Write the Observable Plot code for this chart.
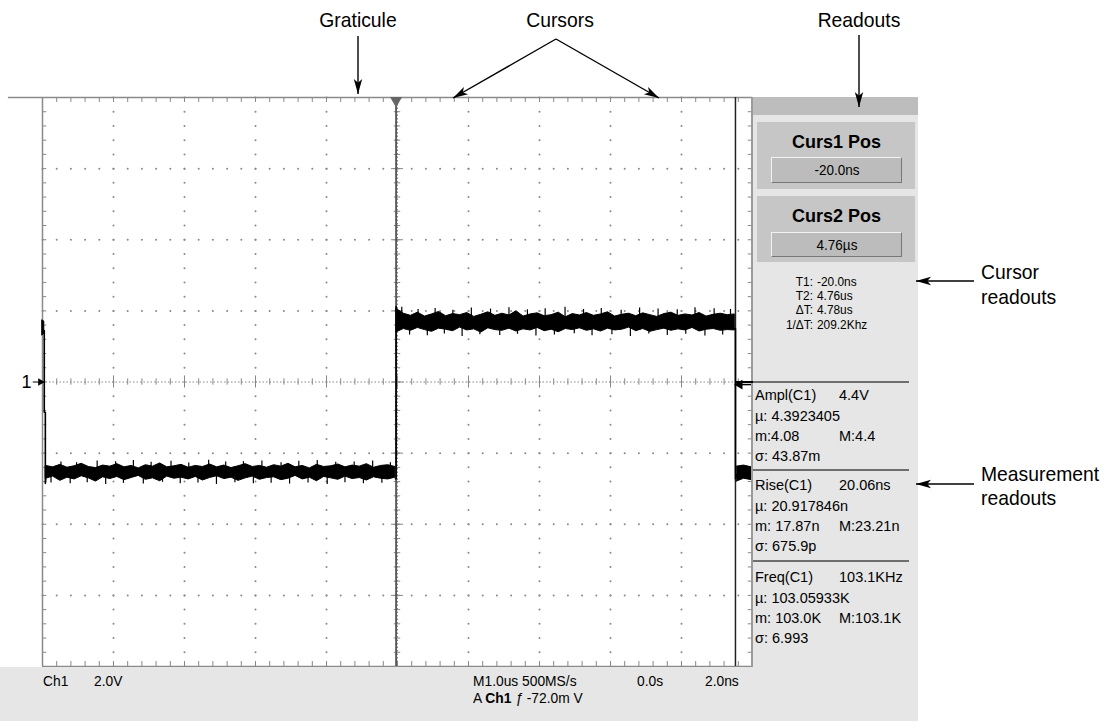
<!DOCTYPE html>
<html><head><meta charset="utf-8">
<script src="https://cdn.jsdelivr.net/npm/d3@7"></script>
<script src="https://cdn.jsdelivr.net/npm/@observablehq/plot@0.6"></script>
<style>
body{margin:0;background:#fff;}
#wrap{position:relative;width:1111px;height:721px;overflow:hidden;font-family:"Liberation Sans",Arial,sans-serif;color:#000;}
#wrap > svg{position:absolute;left:0;top:0;}
.abs{position:absolute;white-space:pre;}
</style></head><body><div id="wrap"></div>
<script>
// ---------------- data ----------------
const timeDomain = [-5, 5];      // µs  (1.0 µs / div, 10 div)
const voltDomain = [-8, 8];      // V   (2.0 V / div, 8 div)
const majorTicksX = [-4, -3, -2, -1, 1, 2, 3, 4];
const majorTicksY = [-6, -4, -2, 2, 4, 6];
const minorTicksX = [-5,-4.8,-4.6,-4.4,-4.2,-4,-3.8,-3.6,-3.4,-3.2,-3,-2.8,-2.6,-2.4,-2.2,-2,-1.8,-1.6,-1.4,-1.2,-1,-0.8,-0.6,-0.4,-0.2,0,0.2,0.4,0.6,0.8,1,1.2,1.4,1.6,1.8,2,2.2,2.4,2.6,2.8,3,3.2,3.4,3.6,3.8,4,4.2,4.4,4.6,4.8,5];
const minorTicksY = [-8,-7.6,-7.2,-6.8,-6.4,-6,-5.6,-5.2,-4.8,-4.4,-4,-3.6,-3.2,-2.8,-2.4,-2,-1.6,-1.2,-0.8,-0.4,0,0.4,0.8,1.2,1.6,2,2.4,2.8,3.2,3.6,4,4.4,4.8,5.2,5.6,6,6.4,6.8,7.2,7.6,8];
const cursor1 = -0.02;           // µs
const cursor2 = 4.76;            // µs
const triggerLevel = -0.072;     // V

// waveform envelope (V)
const leadTimes = [-5, -4.975];
const leadTop = [1.73, 1.70];
const leadBot = [1.31, 1.35];
const lowSpan = [-4.95, -0.03];
const lowTop = [-2.36,-2.40,-2.33,-2.41,-2.37,-2.30,-2.39,-2.42,-2.35,-2.38,
  -2.31,-2.40,-2.36,-2.43,-2.34,-2.38,-2.29,-2.40,-2.37,-2.33,
  -2.41,-2.36,-2.39,-2.32,-2.40,-2.35,-2.42,-2.37,-2.31,-2.39,
  -2.36,-2.41,-2.34,-2.38,-2.30,-2.40,-2.36,-2.43,-2.33,-2.39,
  -2.37,-2.32,-2.40,-2.35,-2.38,-2.31,-2.41,-2.36,-2.34,-2.39];
const lowBot = [-2.72,-2.66,-2.78,-2.69,-2.74,-2.65,-2.71,-2.80,-2.68,-2.73,
  -2.67,-2.76,-2.70,-2.64,-2.75,-2.71,-2.79,-2.66,-2.72,-2.69,
  -2.74,-2.67,-2.77,-2.70,-2.65,-2.73,-2.69,-2.78,-2.71,-2.66,
  -2.75,-2.70,-2.68,-2.76,-2.72,-2.64,-2.74,-2.69,-2.79,-2.67,
  -2.71,-2.75,-2.66,-2.73,-2.70,-2.77,-2.68,-2.72,-2.74,-2.69];
const lowSpikeT = [-4.88,-4.74,-4.61,-4.52,-4.37,-4.23,-4.11,-3.97,-3.86,-3.72,-3.58,-3.47,-3.31,-3.19,-3.06,-2.94,-2.81,-2.66,-2.55,-2.42,-2.29,-2.17,-2.03,-1.91,-1.78,-1.64,-1.52,-1.39,-1.26,-1.13,-0.99,-0.87,-0.74,-0.61,-0.48,-0.35,-0.22,-0.1];
const lowSpikeV = [-2.84,-2.25,-2.86,-2.27,-2.83,-2.22,-2.88,-2.24,-2.85,-2.21,-2.87,-2.26,-2.82,-2.23,-2.86,-2.28,-2.84,-2.20,-2.88,-2.25,-2.83,-2.24,-2.86,-2.22,-2.85,-2.27,-2.87,-2.23,-2.84,-2.21,-2.88,-2.26,-2.83,-2.25,-2.86,-2.22,-2.85,-2.27];
const highSpan = [-0.01, 4.75];
const highTop = [2.05,1.92,1.86,1.95,1.84,1.90,1.97,1.85,1.91,1.88,
  1.94,1.83,1.89,1.96,1.86,1.92,1.87,1.99,1.84,1.90,
  1.93,1.85,1.88,1.95,1.82,1.91,1.87,1.94,1.86,1.90,
  1.96,1.84,1.89,1.92,1.85,1.93,1.88,1.83,1.91,1.95,
  1.86,1.90,1.87,1.94,1.84,1.89,1.92,1.88,1.90];
const highBot = [1.40,1.49,1.44,1.52,1.46,1.41,1.50,1.47,1.43,1.53,
  1.45,1.48,1.39,1.51,1.46,1.44,1.50,1.42,1.48,1.45,
  1.52,1.43,1.47,1.40,1.49,1.46,1.51,1.44,1.48,1.42,
  1.50,1.45,1.47,1.53,1.43,1.49,1.41,1.46,1.50,1.44,
  1.48,1.45,1.52,1.42,1.47,1.49,1.44,1.46,1.45];
const highSpikeT = [0.06,0.17,0.29,0.42,0.53,0.66,0.78,0.91,1.04,1.16,1.31,1.44,1.57,1.69,1.83,1.95,2.08,2.21,2.36,2.49,2.62,2.74,2.87,3.02,3.15,3.28,3.41,3.54,3.67,3.8,3.94,4.06,4.19,4.33,4.46,4.58,4.69];
const highSpikeV = [2.10,1.32,2.04,1.30,2.07,1.35,2.02,1.28,2.08,1.33,2.05,1.31,2.09,1.34,2.03,1.29,2.06,1.32,2.10,1.36,2.04,1.30,2.07,1.33,2.02,1.28,2.08,1.35,2.05,1.31,2.03,1.34,2.09,1.29,2.06,1.32,2.04];
const tailTimes = [4.78, 4.88, 4.99];
const tailTop = [-2.38, -2.35, -2.40];
const tailBot = [-2.80, -2.72, -2.76];
// transitions
const edgeTimes = [[-4.975,-4.975,-4.96,-4.96,-4.945], [-0.03,-0.02,-0.02,0.0], [4.74,4.76,4.76,4.78]];
const edgeVolts = [[1.45,-0.85,-0.85,-2.85,-2.55], [-2.72,-2.72,2.12,1.92], [1.5,1.5,-2.72,-2.6]];
const levels = {low: -2.55, high: 1.67};

// annotations & readouts
const calloutLabels = ["Graticule", "Cursors", "Readouts"];
const sideLabels = [["Cursor", "readouts"], ["Measurement", "readouts"]];
const cursorBoxTitles = ["Curs1 Pos", "Curs2 Pos"];
const cursorBoxValues = ["-20.0ns", "4.76µs"];
const cursorReadLabels = ["T1:", "T2:", "ΔT:", "1/ΔT:"];
const cursorReadValues = ["-20.0ns", "4.76us", "4.78us", "209.2Khz"];
const measNames = ["Ampl(C1)", "Rise(C1)", "Freq(C1)"];
const measValues = ["4.4V", "20.06ns", "103.1KHz"];
const measMean = ["4.3923405", "20.917846n", "103.05933K"];
const measMin = ["4.08", " 17.87n", " 103.0K"];
const measMax = ["4.4", "23.21n", "103.1K"];
const measSigma = ["43.87m", "675.9p", "6.993"];
const statusLeft = ["Ch1", "2.0V"];
const statusRight = ["M1.0us 500MS/s", "0.0s", "2.0ns"];
const triggerLine = ["A", "Ch1", "ƒ", "-72.0m V"];
const channelMarker = "1";

// ---------------- build ----------------
const band = [];
leadTimes.forEach((t, i) => band.push({seg: "lead", t, lo: leadBot[i], hi: leadTop[i]}));
lowTop.forEach((v, i) => band.push({seg: "low", t: lowSpan[0] + i * (lowSpan[1] - lowSpan[0]) / (lowTop.length - 1), lo: lowBot[i], hi: v}));
highTop.forEach((v, i) => band.push({seg: "high", t: highSpan[0] + i * (highSpan[1] - highSpan[0]) / (highTop.length - 1), lo: highBot[i], hi: v}));
tailTimes.forEach((t, i) => band.push({seg: "tail", t, lo: tailBot[i], hi: tailTop[i]}));
const edges = [];
edgeTimes.forEach((ts, k) => ts.forEach((t, i) => edges.push({seg: k, t, v: edgeVolts[k][i]})));
const spikes = [];
lowSpikeT.forEach((t, i) => spikes.push({t, v: lowSpikeV[i], base: levels.low}));
highSpikeT.forEach((t, i) => spikes.push({t, v: highSpikeV[i], base: levels.high}));

const vDots = [], hDots = [];
majorTicksX.forEach(x => minorTicksY.forEach(y => vDots.push({x, y})));
majorTicksY.forEach(y => minorTicksX.forEach(x => hDots.push({x, y})));
const majorAll = [-5,-4,-3,-2,-1,0,1,2,3,4,5];
const majorAllY = [-8,-6,-4,-2,0,2,4,6,8];

const gridGray = "#888";
const chart = Plot.plot({
  width: 1111, height: 721,
  marginLeft: 42, marginRight: 359, marginTop: 97, marginBottom: 55,
  x: {domain: timeDomain, axis: null},
  y: {domain: voltDomain, axis: null},
  style: {background: "transparent", overflow: "visible"},
  marks: [
    // graticule dots
    Plot.dot(vDots, {x: "x", y: "y", r: 1, fill: gridGray, stroke: null}),
    Plot.dot(hDots, {x: "x", y: "y", r: 1, fill: gridGray, stroke: null}),
    // center cross
    Plot.ruleY([0], {stroke: gridGray, strokeDasharray: "1.5,2"}),
    Plot.ruleX([0], {stroke: gridGray, strokeDasharray: "1.5,2"}),
    Plot.ruleX(minorTicksX, {y1: -0.09, y2: 0.09, stroke: gridGray}),
    Plot.ruleX(majorAll, {y1: -0.17, y2: 0.17, stroke: gridGray}),
    Plot.ruleY(minorTicksY, {x1: -0.045, x2: 0.045, stroke: gridGray}),
    Plot.ruleY(majorAllY, {x1: -0.085, x2: 0.085, stroke: gridGray}),
    // border ticks
    Plot.ruleX(minorTicksX, {y1: 8, y2: 7.86, stroke: gridGray}),
    Plot.ruleX(minorTicksX, {y1: -8, y2: -7.86, stroke: gridGray}),
    Plot.ruleY(minorTicksY, {x1: -5, x2: -4.94, stroke: gridGray}),
    Plot.ruleY(minorTicksY, {x1: 5, x2: 4.94, stroke: gridGray}),
    // frame
    Plot.ruleX([-5], {stroke: "#8a8a8a", strokeWidth: 1.5}),
    Plot.ruleY([-8], {stroke: "#8a8a8a", strokeWidth: 1.5}),
    Plot.ruleY([8], {x1: -5.48, x2: 5, stroke: "#8a8a8a", strokeWidth: 1.5}),
    // cursors
    Plot.ruleX([cursor1], {stroke: "#555", strokeWidth: 1.8}),
    Plot.ruleX([cursor2], {stroke: "#222", strokeWidth: 1.5}),
    Plot.dot([cursor1], {x: d => d, y: 8, symbol: "triangle", rotate: 180, r: 4.5, fill: "#666", stroke: null, dy: 3}),
    // waveform
    Plot.areaY(band, {x: "t", y1: "lo", y2: "hi", z: "seg", fill: "#000", stroke: "#000", strokeWidth: 1}),
    Plot.ruleX(spikes, {x: "t", y1: "base", y2: "v", stroke: "#000", strokeWidth: 1.2}),
    Plot.line(edges, {x: "t", y: "v", z: "seg", stroke: "#000", strokeWidth: 1.6}),
    // trigger level marker
    Plot.ruleY([triggerLevel], {x1: 4.8, x2: 5, stroke: "#000", strokeWidth: 1.5}),
    Plot.dot([triggerLevel], {x: 4.82, y: d => d, symbol: "triangle", rotate: -90, r: 3.6, fill: "#000", stroke: null}),
    // channel 1 ground marker
    Plot.ruleY([0], {x1: -5.13, x2: -5.01, stroke: "#000", strokeWidth: 1}),
    Plot.dot([0], {x: -5.03, y: d => d, symbol: "triangle", rotate: 90, r: 2.8, fill: "#000", stroke: null}),
    Plot.text([channelMarker], {x: -5, y: 0, text: d => d, dx: -16, fontSize: 18, fontFamily: "Liberation Sans", textAnchor: "middle", fill: "#000"})
  ]
});
const wrap = document.getElementById("wrap");
wrap.appendChild(chart);

function box(x, y, w, h, css) {
  const d = document.createElement("div");
  d.className = "abs";
  d.style.cssText += `left:${x}px;top:${y}px;width:${w}px;height:${h}px;` + (css || "");
  wrap.appendChild(d);
  return d;
}
function text(x, yc, str, opts) {
  const o = Object.assign({size: 15, lh: 20, anchor: "start", sx: 1, css: ""}, opts || {});
  const d = document.createElement("div");
  d.className = "abs";
  d.textContent = str;
  const tx = o.anchor === "middle" ? "translateX(-50%)" : o.anchor === "end" ? "translateX(-100%)" : "";
  const origin = o.anchor === "middle" ? "center" : o.anchor === "end" ? "right" : "left";
  d.style.cssText += `left:${x}px;top:${yc - o.lh / 2}px;line-height:${o.lh}px;font-size:${o.size}px;transform-origin:${origin} center;transform:${tx} scaleX(${o.sx});` + o.css;
  wrap.appendChild(d);
  return d;
}

// readout panel
box(0, 667, 918, 54, "background:#e6e6e6;");
box(753, 97, 165, 18, "background:#bdbdbd;");
box(753, 115, 165, 606, "background:#e6e6e6;");
box(751, 97, 2, 570, "background:#9a9a9a;");
[[122, 67, 157, 26], [196, 66, 232, 25]].forEach(([by, bh, btn, btnh], i) => {
  box(757, by, 158, bh, "background:#c6c6c6;");
  text(836.5, by + 20, cursorBoxTitles[i], {size: 18, anchor: "middle", css: "font-weight:bold;"});
  box(771, btn, 131, btnh, "background:#bcbcbc;box-sizing:border-box;border-top:1px solid #f2f2f2;border-left:1px solid #f2f2f2;border-bottom:1px solid #777;border-right:1px solid #777;");
  text(836.5, btn + btnh / 2, cursorBoxValues[i], {size: 15, anchor: "middle", sx: 0.9});
});
// cursor readouts (tightly spaced)
cursorReadLabels.forEach((s, i) => {
  const y = 282 + i * 14.2;
  text(813, y, s, {size: 12.5, lh: 14, anchor: "end", sx: 0.95});
  text(817, y, cursorReadValues[i], {size: 12.5, lh: 14, sx: 0.95});
});
// separators
[382, 470, 561].forEach(y => box(753, y - 0.75, 156, 1.5, "background:#6e6e6e;"));
box(736, 381.25, 17, 1.5, "background:#000;");
const blockTop = [395, 485, 577];
measNames.forEach((n, i) => {
  const y0 = blockTop[i];
  const o = {size: 14.5};
  text(755, y0, n, o);
  text(839, y0, measValues[i], o);
  text(755, y0 + 20.5, "µ: " + measMean[i], o);
  text(755, y0 + 40.5, "m:" + measMin[i], o);
  text(839, y0 + 40.5, "M:" + measMax[i], o);
  text(755, y0 + 60.5, "σ: " + measSigma[i], o);
});
// status bar
const so = {size: 15, sx: 0.92};
text(43, 681, statusLeft[0], so);
text(94, 681, statusLeft[1], so);
text(473, 681, statusRight[0], so);
text(637, 681, statusRight[1], so);
text(705, 681, statusRight[2], so);
const tl = text(473, 698, "", so);
tl.innerHTML = `${triggerLine[0]} <b>${triggerLine[1]}</b> <i>${triggerLine[2]}</i> ${triggerLine[3]}`;

// callouts
const ao = {size: 21, sx: 0.92, lh: 24};
text(358, 20, calloutLabels[0], Object.assign({anchor: "middle"}, ao));
text(560, 20, calloutLabels[1], Object.assign({anchor: "middle"}, ao));
text(859, 20, calloutLabels[2], Object.assign({anchor: "middle"}, ao));
text(981, 272, sideLabels[0][0], ao);
text(981, 297, sideLabels[0][1], ao);
text(981, 474, sideLabels[1][0], ao);
text(981, 498, sideLabels[1][1], ao);

const ov = d3.select(wrap).append("svg").attr("width", 1111).attr("height", 721)
  .style("position", "absolute").style("left", 0).style("top", 0).style("pointer-events", "none");
function arrow(x1, y1, x2, y2) {
  ov.append("line").attr("x1", x1).attr("y1", y1).attr("x2", x2).attr("y2", y2).attr("stroke", "#000").attr("stroke-width", 1.4);
  const a = Math.atan2(y2 - y1, x2 - x1), L = 15, hw = 4.2;
  const bx = x2 - L * Math.cos(a), by = y2 - L * Math.sin(a);
  const nx = -Math.sin(a) * hw, ny = Math.cos(a) * hw;
  const ix = x2 - (L * 0.75) * Math.cos(a), iy = y2 - (L * 0.75) * Math.sin(a);
  ov.append("path").attr("d", `M${x2},${y2}L${bx + nx},${by + ny}L${ix},${iy}L${bx - nx},${by - ny}Z`).attr("fill", "#000");
}
arrow(358, 36, 358, 94);
arrow(556, 39, 453, 98);
arrow(556, 39, 659, 98);
arrow(859, 35, 859, 107);
arrow(974, 281, 916, 281);
arrow(974, 484, 916, 484);
</script></body></html>
